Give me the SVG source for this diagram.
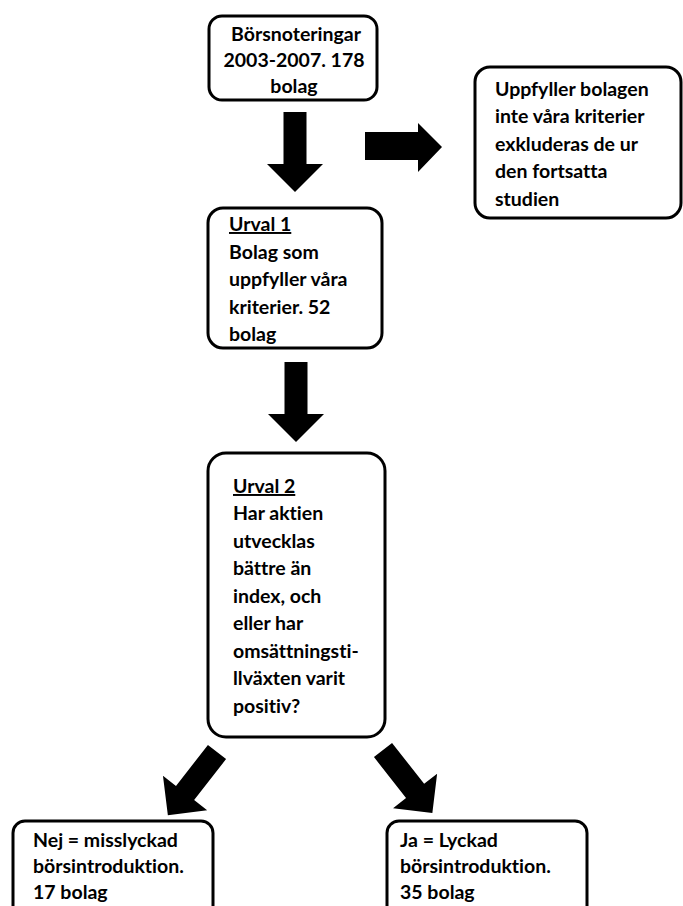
<svg xmlns="http://www.w3.org/2000/svg" width="683" height="906" viewBox="0 0 683 906">
<style>
.box{fill:#fff;stroke:#000;stroke-width:3}
.t{font-family:Lato,"Liberation Sans",sans-serif;font-weight:bold;font-size:19.5px;fill:#000;font-variant-ligatures:none}
.c{text-anchor:middle}
.u{text-decoration:underline}
.arr{fill:#000}
</style>
<defs>
<polygon id="arrow" points="-11.5,0 11.5,0 11.5,52 28,52 0,80 -28,52 -11.5,52"/>
</defs>
<rect width="683" height="906" fill="#fff"/>
<g id="connectors">
<use href="#arrow" class="arr" transform="translate(295,112)"/>
<use href="#arrow" class="arr" transform="translate(296,362)"/>
<polygon class="arr" points="365,132 418,132 418,123 442,147 418,172 418,160 365,160"/>
<use href="#arrow" class="arr" transform="translate(217,752) rotate(37.9)"/>
<use href="#arrow" class="arr" transform="translate(383,750) rotate(-38.1)"/>
</g>
<g id="n1">
<rect class="box" x="209" y="16" width="168" height="84" rx="13"/>
<text class="t c" x="296" y="41">Börsnoteringar</text>
<text class="t c" x="294" y="67">2003-2007. 178</text>
<text class="t c" x="294" y="93">bolag</text>
</g>
<g id="n2">
<rect class="box" x="475" y="67" width="206" height="151" rx="15"/>
<text class="t" x="495" y="96">Uppfyller bolagen</text>
<text class="t" x="495" y="123">inte våra kriterier</text>
<text class="t" x="495" y="151">exkluderas de ur</text>
<text class="t" x="495" y="178">den fortsatta</text>
<text class="t" x="495" y="206">studien</text>
</g>
<g id="n3">
<rect class="box" x="208" y="208" width="174" height="140" rx="15"/>
<text class="t u" x="229" y="231">Urval 1</text>
<text class="t" x="229" y="259">Bolag som</text>
<text class="t" x="229" y="286">uppfyller våra</text>
<text class="t" x="229" y="314">kriterier. 52</text>
<text class="t" x="229" y="341">bolag</text>
</g>
<g id="n4">
<rect class="box" x="208" y="453" width="177" height="284" rx="18"/>
<text class="t u" x="233" y="493">Urval 2</text>
<text class="t" x="233" y="520">Har aktien</text>
<text class="t" x="233" y="548">utvecklas</text>
<text class="t" x="233" y="575">bättre än</text>
<text class="t" x="233" y="603">index, och</text>
<text class="t" x="233" y="630">eller har</text>
<text class="t" x="233" y="658">omsättningsti-</text>
<text class="t" x="233" y="685">llväxten varit</text>
<text class="t" x="233" y="713">positiv?</text>
</g>
<g id="n5">
<rect class="box" x="13" y="821" width="200" height="100" rx="12"/>
<text class="t" x="33" y="847">Nej = misslyckad</text>
<text class="t" x="33" y="873">börsintroduktion.</text>
<text class="t" x="33" y="899">17 bolag</text>
</g>
<g id="n6">
<rect class="box" x="387" y="821" width="200" height="100" rx="12"/>
<text class="t" x="400" y="847">Ja = Lyckad</text>
<text class="t" x="400" y="873">börsintroduktion.</text>
<text class="t" x="400" y="899">35 bolag</text>
</g>
</svg>
